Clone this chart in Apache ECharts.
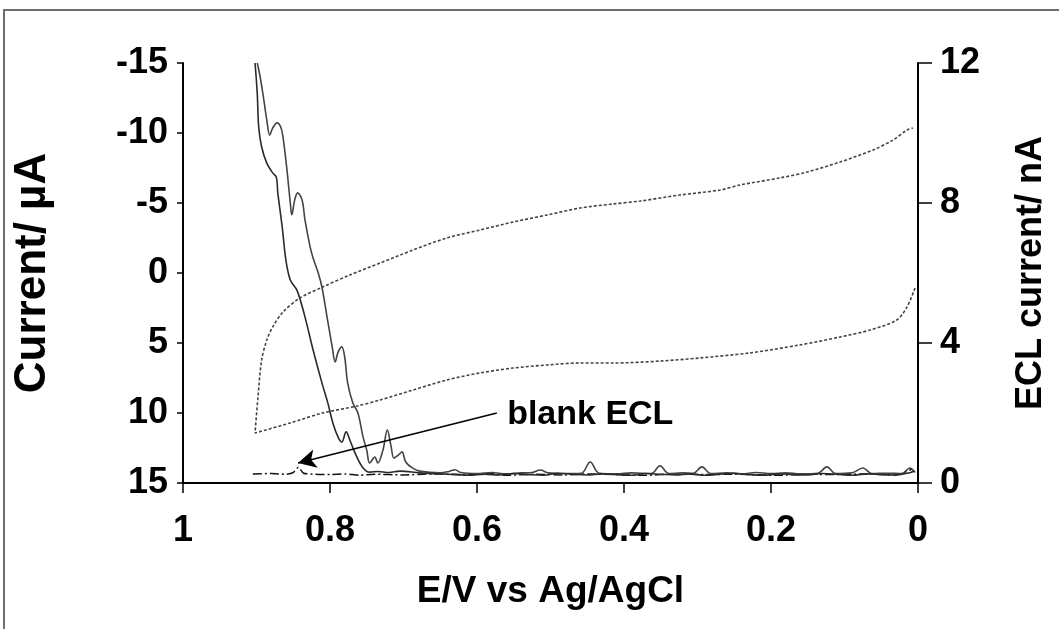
<!DOCTYPE html>
<html>
<head>
<meta charset="utf-8">
<script src="https://cdn.jsdelivr.net/npm/echarts@6/dist/echarts.min.js"></script>
<style>
  html, body { margin: 0; padding: 0; background: #fff; overflow: hidden; }
  #chart { width: 1059px; height: 629px; }
</style>
</head>
<body>
<div id="chart"></div>
<script>
// Potential (V vs Ag/AgCl) and current (µA) for the cyclic voltammogram, dotted trace.
// Anodic-side branch, from 0 V out to the switching potential.
const cvLowerE = [0.004, 0.015, 0.029, 0.065, 0.106, 0.161, 0.229, 0.297, 0.351, 0.415, 0.460, 0.505, 0.551, 0.596, 0.641, 0.687, 0.732, 0.763, 0.810, 0.854, 0.902];
const cvLowerI = [1.07, 2.43, 3.36, 4.07, 4.57, 5.14, 5.71, 6.07, 6.29, 6.43, 6.43, 6.57, 6.79, 7.14, 7.64, 8.36, 9.07, 9.5, 10.0, 10.71, 11.43];
// Return branch, from the switching potential back to 0 V.
const cvUpperE = [0.898, 0.893, 0.886, 0.878, 0.864, 0.841, 0.810, 0.773, 0.732, 0.687, 0.641, 0.596, 0.551, 0.505, 0.460, 0.415, 0.378, 0.324, 0.269, 0.242, 0.188, 0.151, 0.106, 0.061, 0.034, 0.015, 0.007];
const cvUpperI = [8.86, 6.21, 4.79, 3.86, 2.79, 1.79, 1.0, 0.14, -0.71, -1.64, -2.5, -3.07, -3.64, -4.14, -4.64, -4.93, -5.14, -5.57, -5.93, -6.29, -6.79, -7.21, -7.93, -8.79, -9.5, -10.21, -10.36];

// ECL intensity (nA), first solid trace.
const eclAE = [0.902, 0.899, 0.897, 0.893, 0.886, 0.878, 0.873, 0.871, 0.865, 0.860, 0.854, 0.845, 0.834, 0.823, 0.811, 0.803, 0.796, 0.789, 0.784, 0.778, 0.773, 0.766, 0.756, 0.746, 0.735, 0.720, 0.705, 0.678, 0.650,
  0.63, 0.61, 0.59, 0.57, 0.55, 0.53, 0.51, 0.49, 0.47, 0.45, 0.43, 0.41, 0.39, 0.37, 0.35, 0.33, 0.31, 0.29, 0.27, 0.25, 0.23, 0.21, 0.19, 0.17, 0.15, 0.13, 0.11, 0.09, 0.07, 0.05, 0.03, 0.01, 0.005];
const eclAI = [12.0, 11.14, 10.17, 9.6, 9.14, 8.86, 8.74, 8.29, 7.31, 6.37, 5.8, 5.51, 4.74, 3.8, 2.86, 2.29, 1.71, 1.31, 1.17, 1.46, 1.23, 0.86, 0.46, 0.31, 0.33, 0.3, 0.34, 0.29, 0.26,
  0.24, 0.22, 0.25, 0.23, 0.27, 0.24, 0.22, 0.28, 0.25, 0.23, 0.26, 0.24, 0.22, 0.27, 0.25, 0.23, 0.26, 0.22, 0.25, 0.28, 0.24, 0.22, 0.26, 0.24, 0.23, 0.27, 0.25, 0.22, 0.26, 0.24, 0.23, 0.3, 0.35];

// ECL intensity (nA), second solid trace.
const eclBE = [0.899, 0.895, 0.890, 0.886, 0.882, 0.878, 0.872, 0.867, 0.864, 0.859, 0.854, 0.852, 0.848, 0.844, 0.838, 0.834, 0.827, 0.823, 0.816, 0.811, 0.804, 0.797, 0.793, 0.789, 0.784, 0.780, 0.776, 0.769, 0.762, 0.755, 0.750, 0.746, 0.739, 0.735, 0.728, 0.722, 0.717, 0.713, 0.707, 0.702, 0.697, 0.688, 0.678, 0.650,
  0.638, 0.63, 0.622, 0.60, 0.58, 0.56, 0.54, 0.525, 0.514, 0.503, 0.48, 0.458, 0.446, 0.434, 0.41, 0.39, 0.363, 0.351, 0.339, 0.32, 0.306, 0.294, 0.282, 0.26, 0.24, 0.22, 0.20, 0.18, 0.16, 0.136, 0.124, 0.112, 0.09, 0.075, 0.063, 0.04, 0.022, 0.011, 0.004];
const eclBI = [12.0, 11.6, 10.94, 10.37, 9.94, 10.14, 10.29, 10.17, 9.89, 9.03, 8.0, 7.66, 8.09, 8.29, 8.09, 7.51, 6.74, 6.43, 6.0, 5.6, 4.74, 3.89, 3.46, 3.74, 3.89, 3.6, 2.86, 2.29, 2.0, 1.31, 0.94, 0.57, 0.74, 0.57, 0.94, 1.51, 1.06, 0.71, 0.8, 0.89, 0.6, 0.43, 0.34, 0.29,
  0.33, 0.38, 0.3, 0.27, 0.3, 0.26, 0.29, 0.3, 0.37, 0.29, 0.27, 0.28, 0.6, 0.28, 0.26, 0.29, 0.27, 0.49, 0.27, 0.29, 0.28, 0.46, 0.27, 0.29, 0.26, 0.3, 0.27, 0.29, 0.26, 0.28, 0.46, 0.27, 0.29, 0.43, 0.27, 0.28, 0.27, 0.43, 0.3];

// Blank ECL (nA), dash-dot trace.
const blankE = [0.905, 0.88, 0.86, 0.85, 0.843, 0.836, 0.82, 0.80, 0.78, 0.76, 0.74, 0.70, 0.66, 0.62, 0.58, 0.56, 0.52, 0.48, 0.45, 0.41, 0.37, 0.33, 0.29, 0.25, 0.19, 0.15, 0.11, 0.07, 0.03, 0.008];
const blankI = [0.26, 0.27, 0.25, 0.3, 0.45, 0.28, 0.25, 0.24, 0.26, 0.22, 0.25, 0.23, 0.26, 0.24, 0.27, 0.22, 0.25, 0.23, 0.26, 0.24, 0.22, 0.26, 0.24, 0.25, 0.22, 0.25, 0.24, 0.26, 0.23, 0.4];

// Annotation: label anchor and arrow tip (E, nA).
const blankLabelAt = [0.559, 1.94];
const blankArrowFrom = [0.573, 2.0];
const blankArrowTo = [0.8435, 0.57];

const xTicks = { min: 0, max: 1, interval: 0.2 };
const leftTicks = { min: -15, max: 15, interval: 5 };
const rightTicks = { min: 0, max: 12, interval: 4 };

const zip = (a, b) => a.map((v, i) => [v, b[i]]);

const FONT = 'Liberation Sans, Arial, sans-serif';
const chart = echarts.init(document.getElementById('chart'));

const axisLine = { show: true, onZero: false, lineStyle: { color: '#000', width: 2 } };
const tickLbl = { color: '#000', fontFamily: FONT, fontWeight: 'bold', fontSize: 36 };

chart.setOption({
  backgroundColor: '#fff',
  animation: false,
  graphic: [{
    type: 'rect', silent: true, z: -1,
    shape: { x: 4, y: 10, width: 1100, height: 700 },
    style: { fill: 'none', stroke: '#6e6e6e', lineWidth: 2 }
  }],
  grid: { left: 183, right: 141, top: 63, bottom: 146 },
  xAxis: {
    type: 'value', inverse: true,
    min: xTicks.min, max: xTicks.max, interval: xTicks.interval,
    axisLine,
    axisTick: { show: true, inside: false, length: 10, lineStyle: { color: '#000', width: 1.5 } },
    axisLabel: Object.assign({ margin: 30 }, tickLbl),
    splitLine: { show: false },
    name: 'E/V vs Ag/AgCl', nameLocation: 'middle', nameGap: 90,
    nameTextStyle: { color: '#000', fontFamily: FONT, fontWeight: 'bold', fontSize: 37 }
  },
  yAxis: [{
    type: 'value', inverse: true, position: 'left',
    min: leftTicks.min, max: leftTicks.max, interval: leftTicks.interval,
    axisLine,
    axisTick: { show: true, inside: false, length: 6, lineStyle: { color: '#000', width: 1.5 } },
    axisLabel: Object.assign({ margin: 15 }, tickLbl),
    splitLine: { show: false },
    name: 'Current/ µA', nameLocation: 'middle', nameGap: 128, nameRotate: 90,
    nameTextStyle: { color: '#000', fontFamily: FONT, fontWeight: 'bold', fontSize: 44 }
  }, {
    type: 'value', position: 'right',
    min: rightTicks.min, max: rightTicks.max, interval: rightTicks.interval,
    axisLine,
    axisTick: { show: true, inside: false, length: 14, lineStyle: { color: '#000', width: 1.5 } },
    axisLabel: Object.assign({ margin: 22 }, tickLbl),
    splitLine: { show: false },
    name: 'ECL current/ nA', nameLocation: 'middle', nameGap: 95, nameRotate: 90,
    nameTextStyle: { color: '#000', fontFamily: FONT, fontWeight: 'bold', fontSize: 36 }
  }],
  series: [{
    name: 'CV', type: 'line', yAxisIndex: 0, showSymbol: false, smooth: 0.3,
    data: zip(cvLowerE, cvLowerI).concat(zip(cvUpperE, cvUpperI)),
    lineStyle: { color: '#444', width: 1.6, type: [3, 2] }
  }, {
    name: 'blank ECL', type: 'line', yAxisIndex: 1, showSymbol: false, smooth: 0.2,
    data: zip(blankE, blankI),
    lineStyle: { color: '#111', width: 1.5, type: [9, 3, 2, 3] },
    markLine: {
      silent: true, symbol: ['none', 'arrow'], symbolSize: [14, 18],
      label: { show: false },
      lineStyle: { color: '#000', width: 1.5, type: 'solid' },
      data: [[{ coord: blankArrowFrom }, { coord: blankArrowTo }]]
    },
    markPoint: {
      silent: true, symbol: 'circle', symbolSize: 0,
      label: { show: true, position: 'right', distance: 0, formatter: 'blank ECL',
        color: '#000', fontFamily: FONT, fontWeight: 'bold', fontSize: 34 },
      data: [{ coord: blankLabelAt }]
    }
  }, {
    name: 'ECL 2', type: 'line', yAxisIndex: 1, showSymbol: false, smooth: 0.35,
    data: zip(eclBE, eclBI),
    lineStyle: { color: '#444', width: 1.6 }
  }, {
    name: 'ECL 1', type: 'line', yAxisIndex: 1, showSymbol: false, smooth: 0.35,
    data: zip(eclAE, eclAI),
    lineStyle: { color: '#2a2a2a', width: 1.6 }
  }]
});
</script>
</body>
</html>
